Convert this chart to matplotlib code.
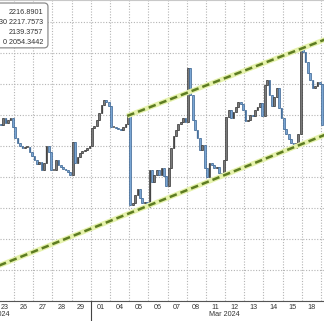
import matplotlib
matplotlib.use("Agg")
import matplotlib.pyplot as plt
from matplotlib.patches import Rectangle, FancyBboxPatch

# trading days shown on the axis (the 19th is cut off by the right edge)
days = ["23", "26", "27", "28", "29", "01", "04", "05", "06", "07",
        "08", "11", "12", "13", "14", "15", "18"]

# closes per day (8 bars a day), last list is the partly visible 19th
closes = [
    [2166.5, 2167.1, 2166.8, 2169.0, 2167.4, 2168.4, 2169.0, 2166.1],
    [2162.6, 2161.0, 2160.0, 2159.4, 2159.7, 2159.7, 2158.1, 2156.8],
    [2155.5, 2154.2, 2154.8, 2152.3, 2154.5, 2160.0, 2158.1, 2152.3],
    [2152.3, 2155.5, 2153.9, 2153.2, 2152.6, 2152.3, 2151.6, 2150.6],
    [2161.3, 2154.5, 2156.5, 2157.7, 2158.4, 2158.7, 2159.4, 2160.0],
    [2165.8, 2166.5, 2168.4, 2170.6, 2173.2, 2174.8, 2174.2, 2172.9],
    [2166.1, 2166.1, 2165.8, 2165.5, 2165.2, 2166.1, 2167.1, 2169.7],
    [2141.0, 2141.6, 2144.2, 2146.1, 2143.2, 2141.6, 2141.9, 2140.3],
    [2152.3, 2148.4, 2150.6, 2152.3, 2150.6, 2152.9, 2150.3, 2147.1],
    [2152.9, 2159.4, 2163.2, 2165.2, 2167.1, 2167.7, 2169.0, 2167.7],
    [2185.2, 2176.5, 2168.4, 2165.2, 2162.6, 2158.7, 2160.3, 2152.9],
    [2150.0, 2154.5, 2153.9, 2152.9, 2153.2, 2151.3, 2150.3, 2155.5],
    [2169.4, 2171.6, 2169.0, 2171.0, 2172.6, 2174.2, 2173.5, 2171.6],
    [2168.1, 2168.4, 2170.0, 2169.7, 2171.6, 2172.6, 2173.9, 2169.7],
    [2179.7, 2181.3, 2176.5, 2172.9, 2175.8, 2178.7, 2172.3, 2169.0],
    [2165.5, 2163.9, 2162.3, 2161.0, 2159.4, 2161.0, 2163.9, 2191.6],
    [2190.3, 2187.1, 2183.5, 2181.3, 2178.7, 2179.4, 2180.6, 2180.0],
    [2166.8, 2170.6, 2172.3],
]
first_open = 2167.0

# channel lines (day index, price)
upper_x = [6.9, 17.6]
upper_y = [2169.7, 2195.3]
lower_x = [-1.0, 17.6]
lower_y = [2118.4, 2164.6]

legend_vals = ["2216.8901", "30 2217.7573", "2139.3757", "0 2054.3442"]

fig = plt.figure(figsize=(3.24, 3.21), dpi=100)
ax = fig.add_axes([0, 20 / 321, 1, 301 / 321])

up_face, up_edge = "#7a7a7a", "#3c3c3c"
dn_face, dn_edge = "#7aa6d4", "#3f6793"

prev = first_open
n = 8
for d, vals in enumerate(closes):
    for j, c in enumerate(vals):
        xc = d + (j + 0.5) / n
        o = prev
        lo, hi = min(o, c), max(o, c)
        up = c >= o
        ax.vlines(xc, lo, hi, color=up_edge if up else dn_edge, lw=0.9, zorder=3)
        ax.add_patch(Rectangle((xc - 0.045, lo), 0.09, max(hi - lo, 0.3),
                               facecolor=up_face if up else dn_face,
                               edgecolor=up_edge if up else dn_edge,
                               lw=0.5, zorder=4))
        prev = c

for xs, ys in [(upper_x, upper_y), (lower_x, lower_y)]:
    ax.plot(xs, ys, color="#e6f2ac", lw=3.6, solid_capstyle="butt", zorder=5)
    ax.plot(xs, ys, color="#5e7d22", lw=1.8, dashes=(3, 1.6), zorder=6)

ax.set_xlim(0.271, 17.155)
ax.set_ylim(2110, 2207.1)

ax.set_xticks([i + 1 for i in range(17)])
ax.set_xticks([i + 0.5 for i in range(len(days))], minor=True)
ax.set_xticklabels([])
ax.set_xticklabels(days, minor=True, fontsize=5.2, color="#333333",
                   family="Liberation Sans")
ax.set_yticks([2110 + 10 * k for k in range(10)])
ax.set_yticklabels([])
ax.tick_params(which="both", length=0, pad=2.5)
ax.tick_params(axis="y", left=False, labelleft=False)

ax.grid(True, which="major", color="#b4b4b4", lw=0.8, linestyle=(0, (1, 1.5)))
ax.set_axisbelow(True)

for s in ["left", "right"]:
    ax.spines[s].set_visible(False)
ax.spines["top"].set_color("#c8c8c8")
ax.spines["bottom"].set_color("#555555")
ax.spines["bottom"].set_linewidth(0.8)

# month separator below the axis
fig.add_artist(plt.Line2D([91 / 324, 91 / 324], [0, 20 / 321],
                          color="#444444", lw=0.8))
fig.text(10 / 324, 7 / 321, "Feb 2024", ha="right", va="center",
         fontsize=5.2, color="#333333", family="Liberation Sans")
fig.text(224 / 324, 7 / 321, "Mar 2024", ha="center", va="center",
         fontsize=5.2, color="#333333", family="Liberation Sans")

box = FancyBboxPatch((-0.06, 0.841), 0.208, 0.149, transform=ax.transAxes,
                     boxstyle="round,pad=0,rounding_size=0.012",
                     facecolor="white", edgecolor="#8c8c8c", lw=0.9, zorder=10)
ax.add_patch(box)
for k, t in enumerate(legend_vals):
    ax.text(0.1327, 0.960 - 0.0333 * k, t, transform=ax.transAxes,
            ha="right", va="center", fontsize=5.2, color="#333333",
            family="Liberation Sans", zorder=11)

fig.savefig("out.png", dpi=100)
